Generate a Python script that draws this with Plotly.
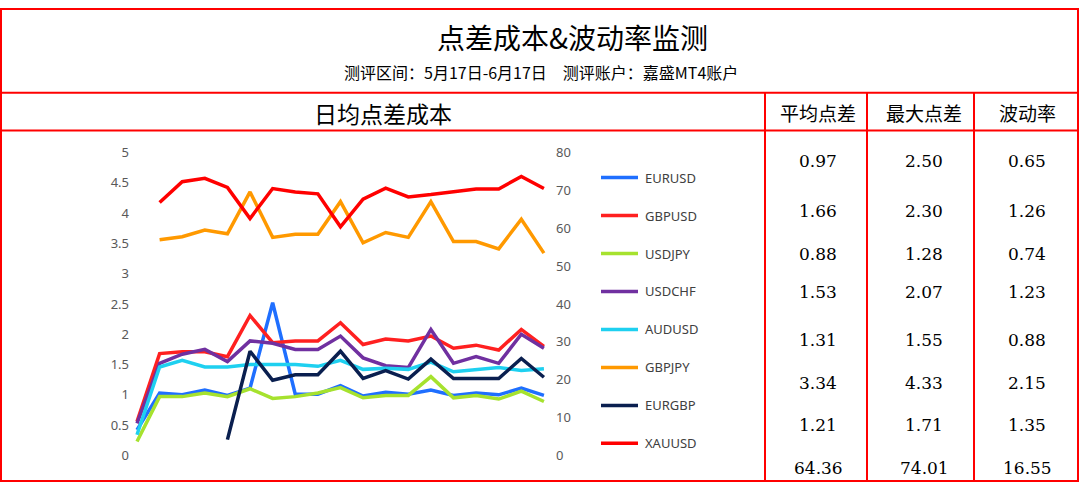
import plotly.graph_objects as go

days = list(range(19))
EURUSD = [0.42,1.03,1.00,1.08,0.99,1.11,2.52,1.01,1.01,1.15,0.98,1.04,1.01,1.08,0.99,1.03,1.00,1.11,0.99]
GBPUSD = [0.56,1.68,1.71,1.71,1.63,2.31,1.86,1.89,1.89,2.19,1.83,1.92,1.89,1.97,1.77,1.82,1.74,2.08,1.80]
USDJPY = [0.23,0.97,0.97,1.03,0.97,1.10,0.94,0.97,1.03,1.12,0.95,0.99,0.99,1.30,0.95,0.99,0.93,1.06,0.89]
USDCHF = [0.53,1.52,1.67,1.75,1.55,1.89,1.85,1.75,1.75,1.97,1.61,1.48,1.45,2.08,1.52,1.63,1.52,2.00,1.77]
AUDUSD = [0.34,1.46,1.57,1.46,1.46,1.50,1.50,1.50,1.47,1.57,1.42,1.44,1.42,1.54,1.38,1.42,1.45,1.40,1.43]
GBPJPY = [None,3.56,3.61,3.72,3.66,4.35,3.60,3.65,3.65,4.19,3.51,3.68,3.60,4.19,3.53,3.53,3.41,3.90,3.34]
EURGBP = [None,None,None,None,0.26,1.72,1.24,1.33,1.33,1.72,1.27,1.40,1.26,1.59,1.27,1.27,1.27,1.60,1.29]
XAUUSD = [None,66.8,72.3,73.2,70.8,62.6,70.5,69.6,69.1,60.4,67.7,70.6,68.3,68.9,69.7,70.4,70.4,73.7,70.5]

names = ["EURUSD","GBPUSD","USDJPY","USDCHF","AUDUSD","GBPJPY","EURGBP","XAUUSD"]
series = [EURUSD,GBPUSD,USDJPY,USDCHF,AUDUSD,GBPJPY,EURGBP,XAUUSD]
colors = ["#1F6FFF","#FF2020","#A6E22E","#7030A0","#1ED0F0","#FF9900","#0A1F4F","#FF0000"]

avg_spread = ["0.97","1.66","0.88","1.53","1.31","3.34","1.21","64.36"]
max_spread = ["2.50","2.30","1.28","2.07","1.55","4.33","1.71","74.01"]
volatility = ["0.65","1.26","0.74","1.23","0.88","2.15","1.35","16.55"]
headers = ["平均点差","最大点差","波动率"]

W, H = 1080, 490
def px(x): return x / W
def py(y):
    v = 1 - ((y - 8.3) / 0.964) / H
    return min(1.0, max(0.0, v))

fig = go.Figure()
for n, s, c in zip(names, series, colors):
    fig.add_trace(go.Scatter(x=days, y=s, name=n, mode="lines",
                             line=dict(color=c, width=3.5),
                             yaxis="y2" if n == "XAUUSD" else "y",
                             showlegend=False, connectgaps=False))

tickfont = dict(family="Noto Sans, sans-serif", size=13, color="#595959")
fig.update_layout(
    width=W, height=H, margin=dict(l=0, r=0, t=0, b=0),
    paper_bgcolor="white", plot_bgcolor="white",
    xaxis=dict(domain=[px(130), px(555)], range=[-0.31, 18.49], visible=False),
    yaxis=dict(domain=[py(455), py(152)], range=[0, 5], dtick=0.5, showgrid=False,
               zeroline=False, tickfont=tickfont, ticks=""),
    yaxis2=dict(overlaying="y", side="right", range=[0, 80], dtick=10, showgrid=False,
                zeroline=False, tickfont=tickfont),
)

red = "#FF0000"
shapes = [
    dict(type="rect", x0=px(1), x1=px(1078), y0=py(1), y1=py(488), line=dict(color=red, width=2)),
    dict(type="line", x0=px(1), x1=px(1078), y0=py(92), y1=py(92), line=dict(color=red, width=2)),
    dict(type="line", x0=px(1), x1=px(1078), y0=py(130), y1=py(130), line=dict(color=red, width=2)),
]
for xv in [765, 867, 974]:
    shapes.append(dict(type="line", x0=px(xv), x1=px(xv), y0=py(92), y1=py(488), line=dict(color=red, width=2)))

ann = []
cjk = "Noto Sans CJK SC"
ann.append(dict(x=px(572), y=py(36), text="点差成本&波动率监测", font=dict(family=cjk, size=28, color="black")))
ann.append(dict(x=px(541), y=py(71), text="测评区间：5月17日-6月17日　测评账户：嘉盛MT4账户", font=dict(family=cjk, size=16, color="black")))
ann.append(dict(x=px(383), y=py(112), text="日均点差成本", font=dict(family=cjk, size=23, color="black")))
col_x = [818, 924, 1027]
for cx, h in zip(col_x, headers):
    ann.append(dict(x=px(cx), y=py(112), text=h, font=dict(family=cjk, size=19, color="black")))
row_y = [160, 210, 253, 292, 340, 383, 425, 468]
for cx, col in zip(col_x, [avg_spread, max_spread, volatility]):
    for ry, v in zip(row_y, col):
        ann.append(dict(x=px(cx), y=py(ry), text=v, font=dict(family="DejaVu Serif, serif", size=17, color="black")))

leg_y = [177, 215, 253, 291, 329, 367, 405, 443]
for ly, n, c in zip(leg_y, names, colors):
    shapes.append(dict(type="line", x0=px(601), x1=px(638), y0=py(ly), y1=py(ly), line=dict(color=c, width=3.5)))
    ann.append(dict(x=px(643), y=py(ly), text=n, xanchor="left", font=dict(family="Noto Sans, sans-serif", size=13, color="#404040")))

for a in ann:
    a.update(xref="paper", yref="paper", showarrow=False, xanchor=a.get("xanchor", "center"), yanchor="middle")
for s in shapes:
    s.update(xref="paper", yref="paper")
fig.update_layout(shapes=shapes, annotations=ann)

fig.write_html("out.html", config={"displayModeBar": False},
               post_script="document.body.style.margin='0';document.body.style.overflow='hidden';")
